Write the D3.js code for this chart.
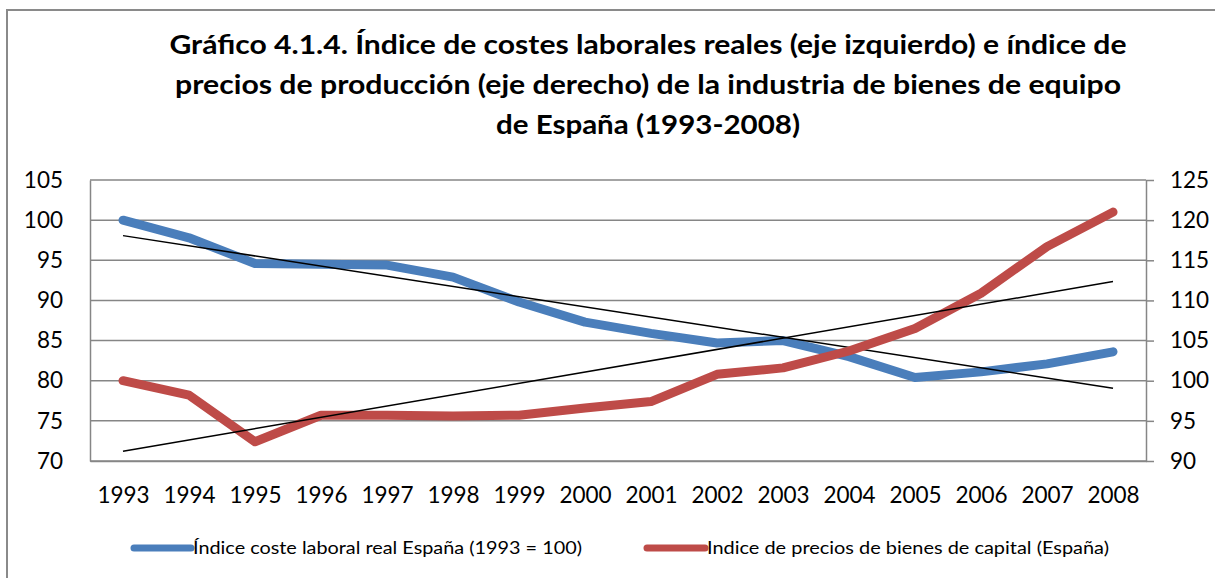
<!DOCTYPE html>
<html>
<head>
<meta charset="utf-8">
<script src="https://cdn.jsdelivr.net/npm/d3@7"></script>
<style>
  html, body { margin: 0; padding: 0; background: #fff; }
  svg { display: block; font-family: Lato, "Open Sans", sans-serif; }
</style>
</head>
<body>
<div id="chart"></div>
<script>
// data
const years = ["1993", "1994", "1995", "1996", "1997", "1998", "1999", "2000",
  "2001", "2002", "2003", "2004", "2005", "2006", "2007", "2008"];
const laborCost = [100, 97.8, 94.6, 94.5, 94.4, 92.9, 89.8, 87.3,
  85.9, 84.7, 85.0, 83.0, 80.4, 81.1, 82.1, 83.6];
const capitalPrices = [100, 98.2, 92.4, 95.7, 95.7, 95.6, 95.7, 96.6,
  97.4, 100.8, 101.6, 103.7, 106.5, 110.9, 116.7, 121.0];
const leftTicks = [70, 75, 80, 85, 90, 95, 100, 105];
const rightTicks = [90, 95, 100, 105, 110, 115, 120, 125];
const titleLines = [
  "Gráfico 4.1.4. Índice de costes laborales reales (eje izquierdo) e índice de",
  "precios de producción (eje derecho) de la industria de bienes de equipo",
  "de España (1993-2008)"
];
const seriesNames = [
  "Índice coste laboral real España (1993 = 100)",
  "Indice de precios de bienes de capital (España)"
];

const w = 1215, h = 578;
const plot = { left: 90, right: 1146, top: 180, bottom: 461 };
const blue = "#4a7ebb", red = "#be4b48", grid = "#868686";

const svg = d3.select("#chart").append("svg").attr("width", w).attr("height", h);

// outer frame
svg.append("rect")
  .attr("x", 7).attr("y", 10)
  .attr("width", 1300).attr("height", 700)
  .attr("fill", "none").attr("stroke", "#8a8a8a").attr("stroke-width", 2);

// title
const titleWidths = [957, 946, 304];
svg.append("g").selectAll("text")
  .data(titleLines)
  .join("text")
  .attr("x", 648)
  .attr("y", (d, i) => 54 + i * 40)
  .attr("text-anchor", "middle")
  .attr("font-size", 26)
  .attr("font-weight", "bold")
  .attr("fill", "#000")
  .attr("textLength", (d, i) => titleWidths[i])
  .attr("lengthAdjust", "spacingAndGlyphs")
  .text(d => d);

const x = d3.scalePoint().domain(years).range([plot.left, plot.right]).padding(0.5);
const yLeft = d3.scaleLinear().domain([70, 105]).range([plot.bottom, plot.top]);
const yRight = d3.scaleLinear().domain([90, 125]).range([plot.bottom, plot.top]);

// gridlines
svg.append("g").selectAll("line")
  .data(leftTicks)
  .join("line")
  .attr("x1", plot.left).attr("x2", plot.right)
  .attr("y1", d => yLeft(d)).attr("y2", d => yLeft(d))
  .attr("stroke", grid).attr("stroke-width", 1.5);

const tickFont = 22.5;

// left axis
const axL = svg.append("g")
  .attr("transform", `translate(${plot.left},0)`)
  .call(d3.axisLeft(yLeft).tickValues(leftTicks).tickSize(0).tickPadding(27));
axL.select(".domain").attr("stroke", grid).attr("stroke-width", 1.5);
axL.selectAll("text").attr("font-size", tickFont).attr("fill", "#000").attr("font-family", "Lato");

// right axis
const axR = svg.append("g")
  .attr("transform", `translate(${plot.right},0)`)
  .call(d3.axisRight(yRight).tickValues(rightTicks).tickSizeInner(8).tickSizeOuter(0).tickPadding(16));
axR.select(".domain").attr("stroke", grid).attr("stroke-width", 1.5);
axR.selectAll("line").attr("stroke", grid).attr("stroke-width", 1.5);
axR.selectAll("text").attr("font-size", tickFont).attr("fill", "#000").attr("font-family", "Lato");

// bottom axis
const axB = svg.append("g")
  .attr("transform", `translate(0,${plot.bottom})`)
  .call(d3.axisBottom(x).tickSize(0).tickPadding(26));
axB.select(".domain").attr("stroke", grid).attr("stroke-width", 1.5);
axB.selectAll("text").attr("font-size", tickFont).attr("fill", "#000").attr("font-family", "Lato");

// linear trend (least squares), like the spreadsheet trendline
function trend(values) {
  const n = values.length;
  const mx = d3.mean(values, (d, i) => i);
  const my = d3.mean(values);
  const sxy = d3.sum(values, (d, i) => (i - mx) * (d - my));
  const sxx = d3.sum(values, (d, i) => (i - mx) * (i - mx));
  const b = sxy / sxx;
  return [[0, my - b * mx], [n - 1, my + b * (n - 1 - mx)]];
}

function drawSeries(values, yScale, colour) {
  const line = d3.line()
    .x((d, i) => x(years[i]))
    .y(d => yScale(d));
  svg.append("path")
    .datum(values)
    .attr("d", line)
    .attr("fill", "none")
    .attr("stroke", colour)
    .attr("stroke-width", 9)
    .attr("stroke-linejoin", "round")
    .attr("stroke-linecap", "round");

  svg.append("path")
    .datum(trend(values))
    .attr("d", d3.line().x(d => x(years[d[0]])).y(d => yScale(d[1])))
    .attr("fill", "none")
    .attr("stroke", "#000")
    .attr("stroke-width", 1.5);
}

drawSeries(laborCost, yLeft, blue);
drawSeries(capitalPrices, yRight, red);

// legend
const legend = [
  { name: seriesNames[0], colour: blue, x1: 134, x2: 191, tx: 193, tw: 389 },
  { name: seriesNames[1], colour: red, x1: 647, x2: 705, tx: 707, tw: 402 }
];
const lg = svg.append("g");
legend.forEach(d => {
  lg.append("line")
    .attr("x1", d.x1).attr("x2", d.x2)
    .attr("y1", 548).attr("y2", 548)
    .attr("stroke", d.colour).attr("stroke-width", 7)
    .attr("stroke-linecap", "round");
  lg.append("text")
    .attr("x", d.tx).attr("y", 554)
    .attr("font-size", 18)
    .attr("fill", "#000")
    .attr("textLength", d.tw)
    .attr("lengthAdjust", "spacingAndGlyphs")
    .text(d.name);
});
</script>
</body>
</html>
